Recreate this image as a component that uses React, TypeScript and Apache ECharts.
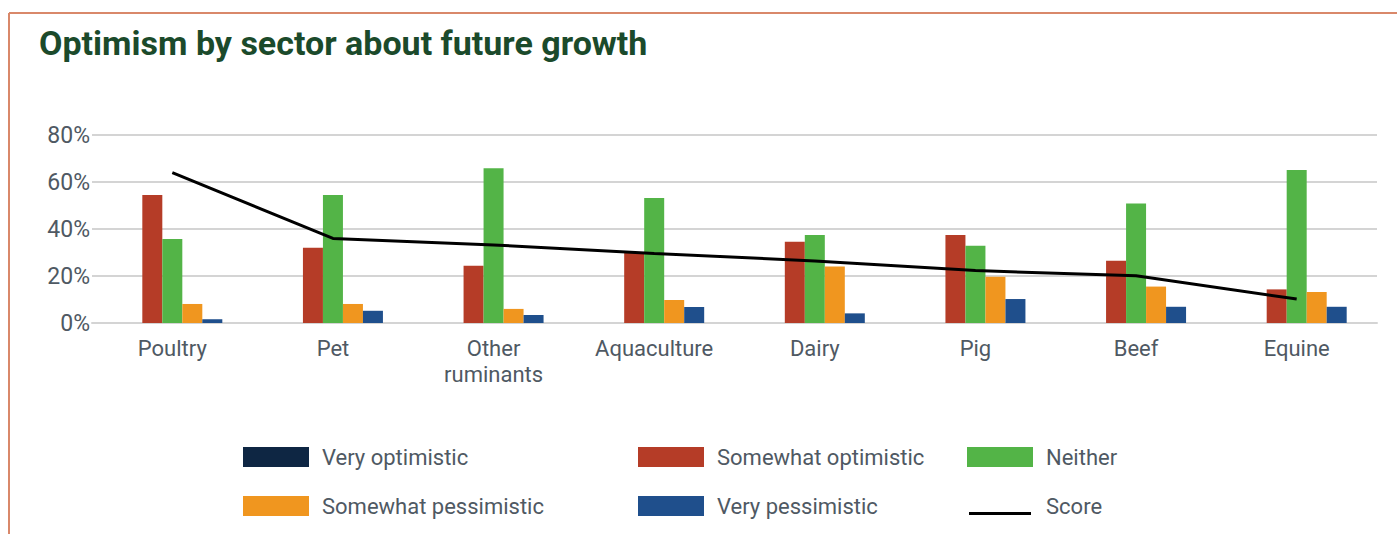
import React, { useEffect, useRef } from "react";
import * as echarts from "echarts";

const categories = ["Poultry", "Pet", "Other\nruminants", "Aquaculture", "Dairy", "Pig", "Beef", "Equine"];
const veryOptimistic = [0, 0, 0, 0, 0, 0, 0, 0];
const somewhatOptimistic = [54.5, 32.0, 24.4, 30.0, 34.6, 37.4, 26.5, 14.3];
const neither = [35.7, 54.5, 65.8, 53.2, 37.4, 32.9, 50.8, 65.1];
const somewhatPessimistic = [8.1, 8.1, 6.0, 9.8, 24.0, 19.7, 15.5, 13.2];
const veryPessimistic = [1.6, 5.2, 3.4, 6.8, 4.1, 10.2, 6.9, 6.9];
const score = [64.0, 36.0, 33.2, 29.6, 26.4, 22.3, 20.1, 10.2];
const yTicks = { min: 0, max: 80, interval: 20 };

const FONT = "Roboto, 'Noto Sans', sans-serif";
const TEXT_COLOR = "#4f5963";

export default function App() {
  const ref = useRef<HTMLDivElement>(null);
  useEffect(() => {
    if (!ref.current) return;
    const chart = echarts.init(ref.current, undefined, { renderer: "svg" });
    const bar = (name: string, data: number[], color: string) => ({
      name,
      type: "bar",
      data,
      barWidth: 20,
      barGap: "0%",
      itemStyle: { color },
    });
    const legendBase = {
      orient: "vertical",
      top: 446,
      padding: 0,
      icon: "rect",
      itemWidth: 66,
      itemHeight: 20,
      itemGap: 27,
      selectedMode: false,
      textStyle: { fontSize: 22, color: TEXT_COLOR, fontFamily: FONT, padding: [0, 0, 0, 8] },
    };
    chart.setOption({
      animation: false,
      backgroundColor: "#ffffff",
      textStyle: { fontFamily: FONT },
      title: {
        text: "Optimism by sector about future growth",
        left: 34,
        top: 21,
        textStyle: { fontSize: 34, fontWeight: "bold", color: "#1b4a2b", fontFamily: FONT },
      },
      graphic: [
        { type: "line", shape: { x1: 9, y1: 13, x2: 1397, y2: 13 }, style: { stroke: "#d9886a", lineWidth: 2 } },
        { type: "line", shape: { x1: 9, y1: 13, x2: 9, y2: 534 }, style: { stroke: "#d9886a", lineWidth: 2 } },
      ],
      legend: [
        { ...legendBase, left: 243, data: ["Very optimistic", "Somewhat pessimistic"] },
        { ...legendBase, left: 638, data: ["Somewhat optimistic", "Very pessimistic"] },
        {
          ...legendBase,
          left: 967,
          data: [
            "Neither",
            { name: "Score", icon: "path://M0,0 M0,16 L62,16 L62,19 L0,19 M62,20 Z", itemStyle: { color: "#000000", borderWidth: 0 } },
          ],
        },
      ],
      grid: { left: 92, right: 20, top: 135, bottom: 211, containLabel: false },
      xAxis: {
        type: "category",
        data: categories,
        axisTick: { show: false },
        axisLine: { show: true, lineStyle: { color: "#d4d4d4", width: 2 } },
        axisLabel: { fontSize: 22, color: TEXT_COLOR, fontFamily: FONT, margin: 12, lineHeight: 26, interval: 0 },
      },
      yAxis: {
        type: "value",
        min: yTicks.min,
        max: yTicks.max,
        interval: yTicks.interval,
        axisLine: { show: false },
        axisTick: { show: false },
        splitLine: { lineStyle: { color: "#d4d4d4", width: 2 } },
        axisLabel: { formatter: "{value}%", fontSize: 23, color: TEXT_COLOR, fontFamily: FONT, margin: 2 },
      },
      series: [
        bar("Very optimistic", veryOptimistic, "#0e2643"),
        bar("Somewhat optimistic", somewhatOptimistic, "#b53c27"),
        bar("Neither", neither, "#53b447"),
        bar("Somewhat pessimistic", somewhatPessimistic, "#f0961f"),
        bar("Very pessimistic", veryPessimistic, "#1f4f8c"),
        {
          name: "Score",
          type: "line",
          data: score,
          symbol: "none",
          lineStyle: { color: "#000000", width: 3 },
          itemStyle: { color: "#000000" },
          z: 5,
        },
      ],
    });
    return () => chart.dispose();
  }, []);
  return (
    <div
      ref={ref}
      style={{ position: "fixed", left: 0, top: 0, width: 1397, height: 534, background: "#fff" }}
    />
  );
}
